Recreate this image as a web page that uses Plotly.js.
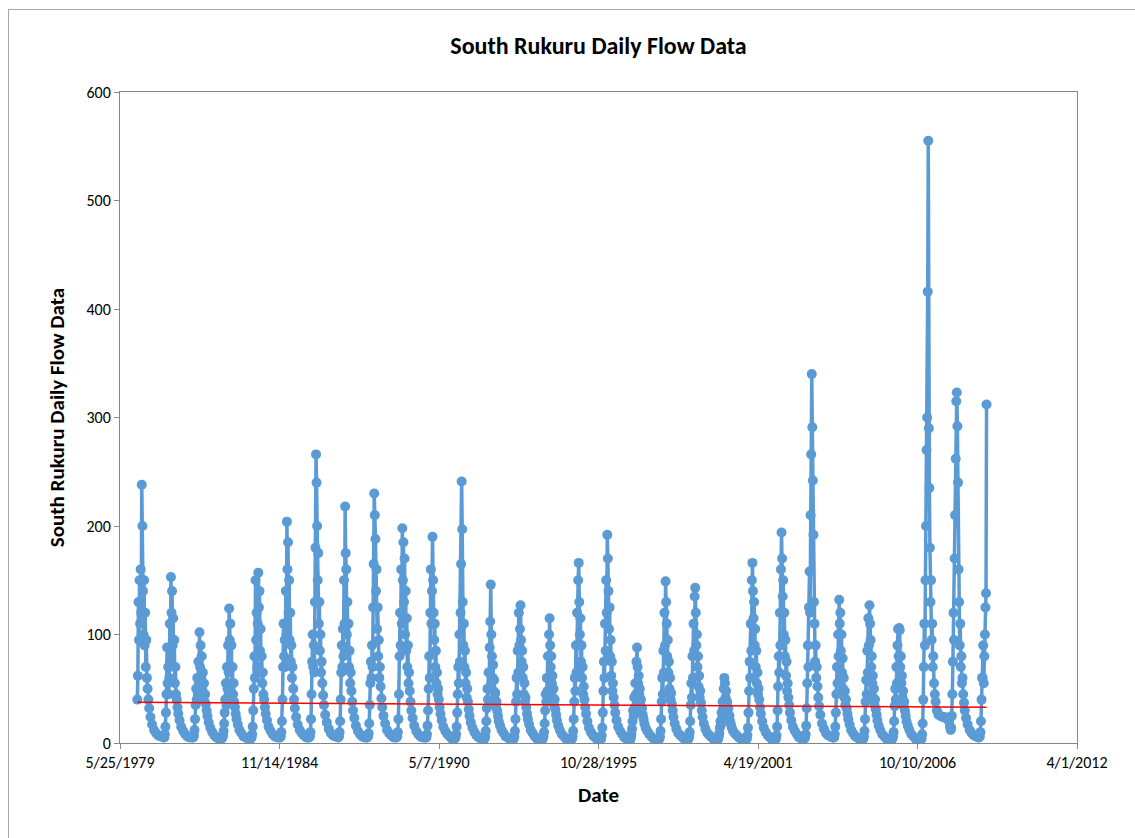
<!DOCTYPE html>
<html>
<head>
<meta charset="utf-8">
<script src="https://cdn.plot.ly/plotly-3.0.1.min.js"></script>
<style>
  html, body { margin: 0; padding: 0; background: #fff; overflow: hidden; }
  #chart { position: absolute; left: 0; top: 0; width: 1135px; height: 838px; }
  #frame { position: absolute; left: 8px; top: 9px; width: 1300px; height: 1000px;
           border: 1px solid #a6a6a6; pointer-events: none; }
</style>
</head>
<body>
<div id="chart"></div>
<div id="frame"></div>
<script>
// ---- Data ----
// Sampling days within each hydrological season (Nov/Dec belong to the previous calendar year)
const seasonDays = ["11-10","11-20","11-30","12-07","12-14","12-21","12-28",
                    "01-04","01-11","01-18","01-25","02-01","02-08","02-15","02-22","03-01","03-08",
                    "03-15","03-22","03-29","04-05","04-12","04-19","04-26",
                    "05-05","05-15","05-25","06-10","06-30","07-25","08-20","09-15","10-15"];
const seasonYears = [1980,1981,1982,1983,1984,1985,1986,1987,1988,1989,1990,1991,1992,1993,1994,
                     1995,1996,1997,1998,1999,2000,2001,2002,2003,2004,2005,2006,2007,2008,2009];

const flow1980 = [null,null,null,null,null,null,40, 62,130,95,150,110,160,120,238,200,140,100,150,90,120,70,95,60, 50,40,32,24,17,12,9,7,6];
const flow1981 = [6,5,5,8,15,28,45, 88,55,70,45,60,110,75,153,120,140,90,115,70,95,55,70,45, 40,33,27,21,15,11,8,6,5];
const flow1982 = [5,5,5,7,12,22,35, 50,40,60,45,75,55,102,70,90,60,80,50,65,42,55,38,45, 36,30,25,19,14,10,7,5,4];
const flow1983 = [4,4,5,7,11,18,28, 40,55,35,70,50,90,65,124,95,110,70,90,55,70,45,55,38, 33,27,22,17,12,9,6,5,4];
const flow1984 = [4,4,5,8,15,30,50, 80,60,150,95,120,70,110,157,125,140,85,105,65,80,55,65,45, 40,33,27,21,15,11,8,6,5];
const flow1985 = [5,5,6,10,20,40,70, 110,80,95,70,140,100,204,160,185,120,150,95,120,75,90,60,70, 50,40,32,24,17,12,9,7,5];
const flow1986 = [5,5,6,10,22,45,75, 100,70,90,65,130,180,266,240,200,150,175,110,130,85,100,65,75, 55,44,35,26,19,13,9,7,6];
const flow1987 = [6,5,6,10,20,40,65, 90,70,105,80,150,110,218,175,160,100,130,85,110,70,85,55,65, 48,38,30,23,16,11,8,6,5];
const flow1988 = [5,5,6,9,18,35,55, 75,60,90,70,125,165,230,210,188,140,160,105,125,80,95,60,70, 52,41,33,25,18,12,9,7,5];
const flow1989 = [5,5,6,10,22,45,80, 120,90,160,110,198,150,185,130,170,100,140,85,115,70,90,55,65, 48,38,30,23,16,11,8,6,5];
const flow1990 = [5,5,5,8,16,30,50, 80,60,120,160,110,140,190,150,120,95,110,70,85,55,65,45,50, 40,33,27,21,15,11,8,6,4];
const flow1991 = [4,4,5,8,15,28,45, 70,55,100,75,120,165,241,197,130,90,110,70,85,55,65,42,50, 38,31,25,19,14,10,7,5,4];
const flow1992 = [4,4,4,6,11,20,32, 50,40,65,50,88,112,146,100,80,60,72,48,58,40,46,34,38, 30,25,20,16,12,9,6,5,3];
const flow1993 = [3,3,4,6,11,22,38, 60,45,85,65,120,90,105,127,95,75,85,60,70,45,55,38,42, 33,27,22,17,12,9,6,4,3];
const flow1994 = [3,3,4,6,10,18,30, 45,38,60,48,80,60,100,115,90,70,80,55,62,42,50,35,40, 31,26,21,16,12,8,6,4,3];
const flow1995 = [3,3,4,6,11,22,38, 60,48,90,65,120,90,150,166,130,100,115,75,90,60,70,45,52, 40,33,27,20,14,10,7,5,3];
const flow1996 = [3,3,4,7,14,28,48, 75,60,110,85,150,120,192,170,140,105,125,80,95,62,75,48,55, 42,35,28,21,15,11,8,5,4];
const flow1997 = [3,3,3,5,8,13,20, 30,25,42,33,55,45,75,88,70,55,62,45,50,35,40,28,32, 26,22,18,14,11,8,6,4,3];
const flow1998 = [3,3,4,6,11,22,38, 60,45,85,65,120,90,149,130,110,80,95,65,75,50,60,40,46, 36,30,24,18,13,9,7,5,3];
const flow1999 = [3,3,4,6,10,20,35, 55,42,80,60,110,85,135,143,120,90,100,70,80,52,62,42,48, 37,30,24,18,13,9,7,5,3];
const flow2000 = [3,3,3,4,6,9,14, 20,17,28,23,38,32,50,60,55,42,48,35,38,28,32,22,25, 20,17,14,11,9,7,5,4,3];
const flow2001 = [3,3,4,7,14,28,48, 75,60,110,85,150,166,140,115,130,90,105,70,85,55,65,45,50, 40,33,27,20,14,10,7,5,3];
const flow2002 = [3,3,4,7,15,30,52, 80,65,120,90,160,194,170,135,150,100,120,80,95,62,75,48,55, 42,35,28,21,15,11,8,5,4];
const flow2003 = [4,4,5,8,16,32,55, 90,70,125,158,120,210,266,340,291,242,192,130,110,75,90,60,70, 52,42,34,26,18,13,9,7,6];
const flow2004 = [5,5,5,8,15,28,45, 70,55,100,80,132,110,120,85,100,65,78,50,60,42,48,35,40, 32,27,22,17,12,9,6,5,3];
const flow2005 = [3,3,4,6,11,22,38, 58,45,85,65,115,90,127,110,95,70,80,55,62,42,50,35,40, 31,26,21,16,12,8,6,4,3];
const flow2006 = [3,3,4,6,10,20,34, 50,40,70,55,90,105,80,106,104,70,80,55,62,42,48,34,38, 30,25,20,16,12,8,6,4,3];
const flow2007 = [3,3,4,8,18,40,70, 110,90,150,200,270,300,416,555,290,235,180,130,150,95,110,70,80, 55,45,38,30,26,25,24,24,22];
const flow2008 = [20,15,12,14,25,45,75, 120,95,170,210,262,315,323,292,240,160,130,90,110,70,80,55,60, 45,37,30,23,17,12,9,7,6];
const flow2009 = [5,5,6,10,20,40,60, 60,90,55,80,100,125,138,312,null,null,null,null,null,null,null,null,null, null,null,null,null,null,null,null,null,null];

const flowBySeason = [flow1980,flow1981,flow1982,flow1983,flow1984,flow1985,flow1986,flow1987,flow1988,flow1989,
                      flow1990,flow1991,flow1992,flow1993,flow1994,flow1995,flow1996,flow1997,flow1998,flow1999,
                      flow2000,flow2001,flow2002,flow2003,flow2004,flow2005,flow2006,flow2007,flow2008,flow2009];

// Linear trend line (Excel trendline) end values
const trendDates = ["1979-12-28", "2009-02-22"];
const trendValues = [37.6, 32.9];

// Axis tick labels
const xTickDates = ["1979-05-25","1984-11-14","1990-05-07","1995-10-28","2001-04-19","2006-10-10","2012-04-01"];
const xTickLabels = ["5/25/1979","11/14/1984","5/7/1990","10/28/1995","4/19/2001","10/10/2006","4/1/2012"];
const yTickVals = [0,100,200,300,400,500,600];

// ---- Build the series ----
const xs = [], ys = [];
seasonYears.forEach((yr, i) => {
  const vals = flowBySeason[i];
  seasonDays.forEach((md, j) => {
    if (vals[j] === null) return;
    const m = parseInt(md.slice(0, 2), 10);
    const y = m >= 11 ? yr - 1 : yr;
    xs.push(y + "-" + md);
    ys.push(vals[j]);
  });
});

const FONT = "Carlito, Lato, 'Liberation Sans', sans-serif";

const traces = [
  {
    type: "scatter", mode: "lines+markers", x: xs, y: ys,
    line: { color: "#5b9bd5", width: 3.5 },
    marker: { color: "#5b9bd5", size: 10 },
    showlegend: false, hoverinfo: "x+y"
  },
  {
    type: "scatter", mode: "lines", x: trendDates, y: trendValues,
    line: { color: "#ff0000", width: 1.5 },
    showlegend: false, hoverinfo: "skip"
  }
];

const layout = {
  width: 1135, height: 838,
  paper_bgcolor: "rgba(0,0,0,0)", plot_bgcolor: "#ffffff",
  margin: { l: 120, r: 58, t: 92, b: 95 },
  font: { family: FONT, color: "#000" },
  title: {
    text: "<b>South Rukuru Daily Flow Data</b>",
    font: { family: FONT, size: 24, color: "#000" },
    x: 0.5, xanchor: "center", y: 0.946, yanchor: "middle", xref: "paper"
  },
  xaxis: {
    type: "date",
    range: ["1979-05-25", "2012-04-01"],
    tickvals: xTickDates, ticktext: xTickLabels,
    ticks: "outside", ticklen: 5, tickcolor: "#868686",
    showline: true, linecolor: "#868686", linewidth: 1, mirror: true,
    showgrid: false, zeroline: false,
    tickfont: { family: FONT, size: 16, color: "#000" },
    title: { text: "<b>Date</b>", font: { family: FONT, size: 21, color: "#000" }, standoff: 16 }
  },
  yaxis: {
    range: [0, 600],
    tickvals: yTickVals,
    ticks: "outside", ticklen: 5, tickcolor: "#868686",
    showline: true, linecolor: "#868686", linewidth: 1, mirror: true,
    showgrid: false, zeroline: false,
    tickfont: { family: FONT, size: 16, color: "#000" },
    title: { text: "<b>South Rukuru Daily Flow Data</b>", font: { family: FONT, size: 21, color: "#000" }, standoff: 16 }
  }
};

Plotly.newPlot("chart", traces, layout, { displayModeBar: false, staticPlot: true });
</script>
</body>
</html>
